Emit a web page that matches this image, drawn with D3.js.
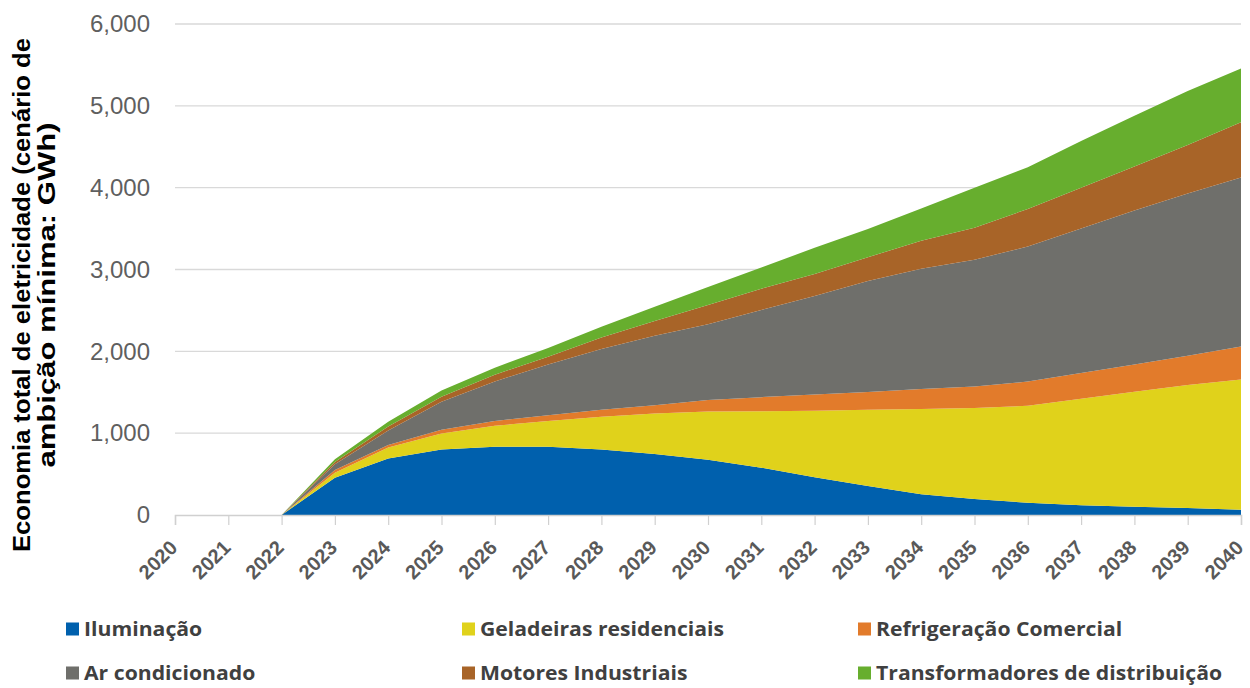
<!DOCTYPE html>
<html>
<head>
<meta charset="utf-8">
<script src="https://cdn.jsdelivr.net/npm/d3@7"></script>
<style>
  html, body { margin: 0; padding: 0; background: #fff; }
  svg { display: block; }
</style>
</head>
<body>
<svg id="chart" width="1250" height="688"></svg>
<script>
// Years on the horizontal axis
const years = d3.range(2020, 2041);

// Electricity savings per end use (GWh); no savings before 2022
const iluminacao     = [null, null, 0, 455, 690, 800, 835, 835, 800, 745, 675, 578, 460, 355, 255, 195, 150, 120, 100, 85, 65];
const geladeiras     = [null, null, 0, 62, 136, 195, 255, 315, 400, 495, 590, 690, 815, 930, 1041, 1114, 1185, 1300, 1405, 1505, 1590];
const refrigeracao   = [null, null, 0, 33, 29, 46, 60, 70, 85, 100, 140, 172, 198, 217, 244, 261, 295, 315, 335, 355, 405];
const arCondicionado = [null, null, 0, 70, 178, 343, 482, 620, 745, 850, 925, 1065, 1202, 1358, 1470, 1550, 1650, 1765, 1880, 1985, 2065];
const motores        = [null, null, 0, 29, 50, 62, 83, 95, 140, 180, 235, 260, 270, 290, 340, 390, 460, 500, 540, 590, 675];
const transformadores= [null, null, 0, 33, 57, 74, 85, 105, 130, 175, 220, 260, 320, 345, 395, 490, 510, 570, 620, 660, 655];

const seriesNames = ["Iluminação", "Geladeiras residenciais", "Refrigeração Comercial",
                     "Ar condicionado", "Motores Industriais", "Transformadores de distribuição"];
const seriesValues = [iluminacao, geladeiras, refrigeracao, arCondicionado, motores, transformadores];
const seriesColors = ["#0060ad", "#e0d21b", "#e27b2b", "#6f6f6b", "#a86428", "#67ae2e"];

const yTicks = [0, 1000, 2000, 3000, 4000, 5000, 6000];

// Rows for the stack layout
const rows = years.map((yr, i) => {
  const r = { year: yr, has: seriesValues[0][i] !== null };
  seriesNames.forEach((n, k) => { r[n] = seriesValues[k][i] ?? 0; });
  return r;
});

const svg = d3.select("#chart");
const x = d3.scaleLinear().domain([2020, 2040]).range([175, 1241]);
const y = d3.scaleLinear().domain([0, 6000]).range([515, 24]);

// Horizontal gridlines
svg.append("g")
  .selectAll("line")
  .data(yTicks.filter(v => v > 0))
  .join("line")
  .attr("x1", x(2020)).attr("x2", x(2040))
  .attr("y1", d => y(d)).attr("y2", d => y(d))
  .attr("stroke", "#d9d9d9").attr("stroke-width", 1.3);

// Stacked areas
const stacked = d3.stack().keys(seriesNames)(rows);
const area = d3.area()
  .defined(d => d.data.has)
  .x(d => x(d.data.year))
  .y0(d => y(d[0]))
  .y1(d => y(d[1]));

svg.append("g")
  .selectAll("path")
  .data(stacked)
  .join("path")
  .attr("d", area)
  .attr("fill", (d, i) => seriesColors[i]);

// Y axis labels (no axis line)
const yAxis = d3.axisLeft(y).tickValues(yTicks).tickSize(0).tickPadding(0)
  .tickFormat(d3.format(","));
const gy = svg.append("g").attr("transform", "translate(150,0)").call(yAxis);
gy.select(".domain").remove();
gy.selectAll("text")
  .attr("fill", "#5f5f5f")
  .style("font-family", "'Liberation Sans', Arial, sans-serif")
  .style("font-size", "24px");

// X axis with category ticks
const xAxis = d3.axisBottom(x).tickValues(years).tickSize(10).tickFormat(d3.format("d"));
const gx = svg.append("g").attr("transform", "translate(0,515)").call(xAxis);
gx.select(".domain").attr("stroke", "#d0d0d0").attr("stroke-width", 1.5);
gx.selectAll(".tick line").attr("stroke", "#d0d0d0").attr("stroke-width", 1.2);
gx.selectAll("text")
  .attr("fill", "#595959")
  .attr("text-anchor", "end")
  .attr("x", 0).attr("y", 0).attr("dy", 0)
  .attr("transform", "translate(3,34) rotate(-45)")
  .style("font-family", "'Liberation Sans', Arial, sans-serif")
  .style("font-weight", "bold")
  .style("font-size", "20px");

// Y axis title, two lines
const titleLines = [
  { text: "Economia total de eletricidade (cenário de", len: 514 },
  { text: "ambição mínima: GWh)", len: 345 }
];
const title = svg.append("g").attr("transform", "translate(0,295) rotate(-90)");
title.selectAll("text")
  .data(titleLines)
  .join("text")
  .attr("x", 0)
  .attr("y", (d, i) => 30 + i * 25)
  .attr("text-anchor", "middle")
  .attr("fill", "#000")
  .attr("textLength", d => d.len)
  .attr("lengthAdjust", "spacingAndGlyphs")
  .style("font-family", "'Liberation Sans', Arial, sans-serif")
  .style("font-weight", "bold")
  .style("font-size", "23px")
  .text(d => d.text);

// Legend: two rows of three
const legendX = [66, 462, 858];
const legendY = [629, 673];
const legend = svg.append("g")
  .selectAll("g")
  .data(seriesNames)
  .join("g")
  .attr("transform", (d, i) => `translate(${legendX[i % 3]},${legendY[Math.floor(i / 3)]})`);
legend.append("rect")
  .attr("x", 0).attr("y", -6.5).attr("width", 13).attr("height", 13)
  .attr("fill", (d, i) => seriesColors[i]);
legend.append("text")
  .attr("x", 18).attr("y", 0).attr("dy", "0.35em")
  .attr("fill", "#404040")
  .attr("transform", "translate(18,0) scale(1.06,1) translate(-18,0)")
  .style("font-family", "'Open Sans', 'Liberation Sans', Arial, sans-serif")
  .style("font-weight", "700")
  .style("font-size", "20px")
  .text(d => d);
</script>
</body>
</html>
